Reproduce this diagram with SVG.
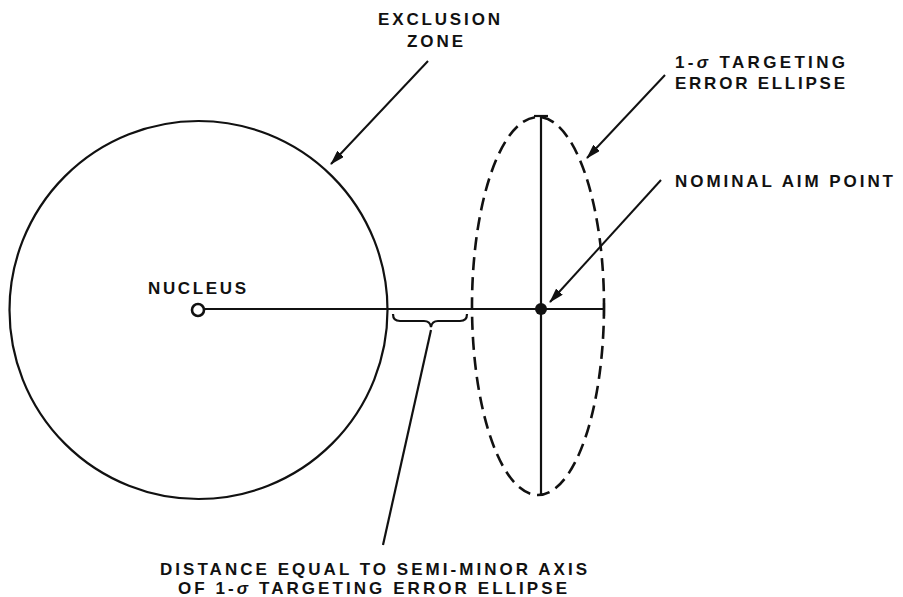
<svg xmlns="http://www.w3.org/2000/svg" width="903" height="597" viewBox="0 0 903 597">
<style>
.t{font-family:"Liberation Sans",Arial,sans-serif;font-weight:bold;font-size:17px;fill:#111;}
.s{fill:none;stroke:#111;stroke-width:2.2;}
.d{fill:none;stroke:#111;stroke-width:2.6;stroke-dasharray:13 7;}
.a{fill:none;stroke:#111;stroke-width:2;marker-end:url(#ah);}
</style>
<defs>
<marker id="ah" markerWidth="15" markerHeight="9" refX="14" refY="4.5" orient="auto" markerUnits="userSpaceOnUse">
<path d="M0,0 L15,4.5 L0,9 z" fill="#111"/>
</marker>
</defs>
<rect width="903" height="597" fill="#fff"/>
<g id="exclusion-zone">
<circle class="s" cx="198.5" cy="310" r="189"/>
</g>
<g id="error-ellipse">
<ellipse class="d" cx="538" cy="306" rx="66" ry="189"/>
<line class="s" x1="541" y1="116" x2="541" y2="494"/>
<line class="s" x1="534" y1="116" x2="548" y2="116"/>
</g>
<g id="connectors">
<line class="s" x1="204" y1="309" x2="604" y2="309"/>
<line class="s" x1="604" y1="303" x2="604" y2="316"/>
<path class="s" d="M393,314 Q393,321 400,321 L424,321 Q430,321 431,327 Q432,321 438,321 L460,321 Q467,321 467,314"/>
<line class="s" x1="431" y1="330" x2="383" y2="545"/>
<line class="a" x1="428" y1="61" x2="331" y2="164"/>
<line class="a" x1="665" y1="75" x2="587" y2="158"/>
<line class="a" x1="661" y1="180" x2="550" y2="302"/>
</g>
<g id="nucleus">
<circle cx="198" cy="310" r="6" fill="#fff" stroke="#111" stroke-width="2.6"/>
<text class="t" x="148" y="294" textLength="98" lengthAdjust="spacing">NUCLEUS</text>
</g>
<g id="aim-point">
<circle cx="541" cy="309" r="6" fill="#111"/>
<text class="t" x="675" y="187" textLength="218" lengthAdjust="spacing">NOMINAL AIM POINT</text>
</g>
<g id="label-exclusion">
<text class="t" x="378" y="25" textLength="122" lengthAdjust="spacing">EXCLUSION</text>
<text class="t" x="407" y="47" textLength="56" lengthAdjust="spacing">ZONE</text>
</g>
<g id="label-ellipse">
<text class="t" x="675" y="68" textLength="170" lengthAdjust="spacing">1-<tspan font-style="italic">σ</tspan> TARGETING</text>
<text class="t" x="675" y="89" textLength="170" lengthAdjust="spacing">ERROR ELLIPSE</text>
</g>
<g id="label-distance">
<text class="t" x="160" y="575" textLength="427" lengthAdjust="spacing">DISTANCE EQUAL TO SEMI-MINOR AXIS</text>
<text class="t" x="178" y="594" textLength="389" lengthAdjust="spacing">OF 1-<tspan font-style="italic">σ</tspan> TARGETING ERROR ELLIPSE</text>
</g>
</svg>
